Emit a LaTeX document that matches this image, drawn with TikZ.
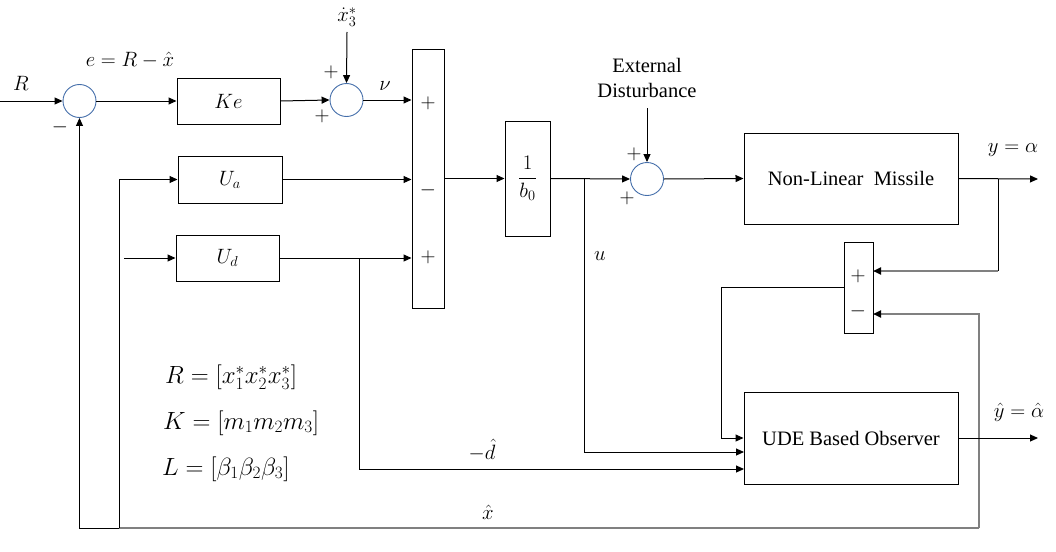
\documentclass[tikz,border=0pt]{standalone}
\usepackage{fontspec}
\setmainfont{Liberation Serif}
\usetikzlibrary{arrows.meta,calc}
\definecolor{circc}{RGB}{68,110,170}
\definecolor{glinec}{RGB}{128,128,128}
\begin{document}
\begin{tikzpicture}[x=1pt,y=-1pt,
  font=\fontsize{20.5}{25}\selectfont,
  blk/.style={draw,line width=1pt,inner sep=0pt},
  sumc/.style={draw=circc,circle,line width=0.9pt,minimum size=33pt,inner sep=0pt},
  wire/.style={line width=1pt},
  gwire/.style={line width=1.8pt,draw=glinec},
  arr/.style={-{Triangle[length=8pt,width=7pt,color=black]}},
  lbl/.style={inner sep=0pt},
  eqn/.style={inner sep=0pt,anchor=west,font=\fontsize{24.5}{29}\selectfont}
]
\useasboundingbox (0,0) rectangle (1056,551);

% blocks
\node[sumc] (s1) at (79.5,101) {};
\node[blk,minimum width=103pt,minimum height=46pt] (ke) at (228.5,101) {$Ke$};
\node[sumc] (s2) at (346.5,100) {};
\node[blk,minimum width=32pt,minimum height=258pt] (bs) at (428,179) {};
\node[blk,minimum width=104pt,minimum height=47pt] (ua) at (230,179.5) {$U_a$};
\node[blk,minimum width=103pt,minimum height=46pt] (ud) at (227.5,258) {$U_d$};
\node[blk,minimum width=45pt,minimum height=115pt] (bo) at (527.5,178.5) {$\displaystyle\frac{1}{b_0}$};
\node[sumc] (s3) at (647,179) {};
\node[blk,minimum width=214pt,minimum height=91pt] (nlm) at (851,178.5) {Non-Linear\ \ Missile};
\node[blk,minimum width=29pt,minimum height=91pt] (ss) at (858.5,287.5) {};
\node[blk,minimum width=214pt,minimum height=92pt] (ude) at (851,438) {UDE Based Observer};

% coordinates
\coordinate (rin) at (0,101);
\coordinate (xdb) at (347,32);
\coordinate (udin) at (124,258);
\coordinate (extb) at (647,108);
\coordinate (yout) at (1038,179);
\coordinate (yb) at (998,179);
\coordinate (ssp) at (873,271);
\coordinate (ssm) at (873,314);
\coordinate (xr) at (979,528);
\coordinate (jx) at (721,287.5);
\coordinate (ub) at (584,179);
\coordinate (ui) at (744,452);
\coordinate (db) at (359,258);
\coordinate (di) at (744,469);
\coordinate (yhat) at (1038,438);
\coordinate (xl) at (119,528);
\coordinate (xll) at (79.5,528);

% connectors
\draw[wire,arr] (rin) -- (s1.west);
\draw[wire,arr] (s1.east) -- (ke.west);
\draw[wire,arr] (ke.east) -- (s2.west);
\draw[wire,arr] (xdb) -- (s2.north);
\draw[wire,arr] (s2.east) -- (s2.east -| bs.west);
\draw[wire,arr] (ua.east) -- (ua.east -| bs.west);
\draw[wire,arr] (ud.east) -- (ud.east -| bs.west);
\draw[wire,arr] (udin) -- (ud.west);
\draw[wire,arr] (bs.east |- bo.west) -- (bo.west);
\draw[wire,arr] (bo.east) -- (s3.west);
\draw[wire,arr] (extb) -- (s3.north);
\draw[wire,arr] (s3.east) -- (nlm.west);
\draw[wire,arr] (nlm.east) -- (yout);
\draw[wire] (yb) -- (yb |- ssp);
\draw[gwire,arr] (yb |- ssp) -- (ssp);
\draw[gwire,arr] (xr) |- (ssm);
\draw[wire,arr] (ss.west) -- (jx) |- (ude.west);
\draw[wire,arr] (ub) |- (ui);
\draw[wire,arr] (db) |- (di);
\draw[wire,arr] (ude.east) -- (yhat);
\draw[gwire] (xr) -- (xl);
\draw[wire,arr] (xl) -- (xll) -- (s1.south);
\draw[wire,arr] (xl) |- (ua.west);

% labels
\node[lbl] (lr) at (21,83) {$R$};
\node[lbl] (le) at (130,60) {$e = R - \hat{x}$};
\node[lbl] (m1) at (60,127) {$-$};
\node[lbl] (p1) at (331,72) {$+$};
\node[lbl] (p2) at (322,116) {$+$};
\node[lbl] (xd) at (347,17) {$\dot{x}_3^*$};
\node[lbl] (lnu) at (385,86) {$\nu$};
\node[lbl] (bsa) at (428,103) {$+$};
\node[lbl] (bsb) at (428,190) {$-$};
\node[lbl] (bsc) at (428,257) {$+$};
\node[lbl] (p3) at (634,154) {$+$};
\node[lbl] (p4) at (627,198) {$+$};
\node[lbl,align=center] (ext) at (647,78) {External\\Disturbance};
\node[lbl] (lu) at (600,256) {$u$};
\node[lbl] (ly) at (1013,150) {$y = \alpha$};
\node[lbl] (ssa) at (858,276) {$+$};
\node[lbl] (ssb) at (858,311) {$-$};
\node[lbl] (lyh) at (1019,412) {$\hat{y} = \hat{\alpha}$};
\node[lbl] (ldh) at (482,450) {$-\hat{d}$};
\node[lbl] (lxh) at (488,512) {$\hat{x}$};
\node[eqn] (eqr) at (165,377) {$R = [x_1^*x_2^*x_3^*]$};
\node[eqn] (eqk) at (163,423) {$K = [m_1m_2m_3]$};
\node[eqn] (eql) at (162,469) {$L = [\beta_1\beta_2\beta_3]$};
\end{tikzpicture}
\end{document}
